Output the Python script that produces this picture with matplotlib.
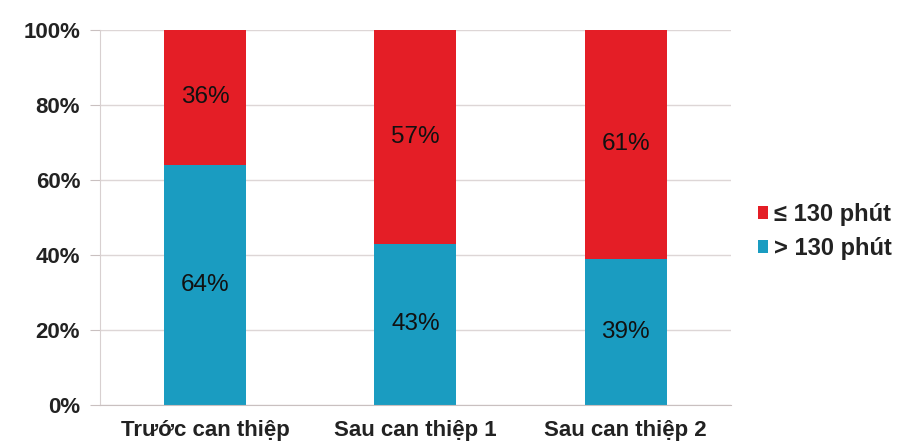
import numpy as np
import matplotlib.pyplot as plt

plt.rcParams['font.family'] = ['Liberation Sans', 'DejaVu Sans']

# Data to plot
categories = ['Trước can thiệp', 'Sau can thiệp 1', 'Sau can thiệp 2']
over_130 = [64, 43, 39]
under_130 = [36, 57, 61]
y_ticks = [0, 20, 40, 60, 80, 100]

red = '#e41e26'
blue = '#1a9cc1'

fig = plt.figure(figsize=(8.98, 4.45), dpi=100)
ax = fig.add_axes([0.111, 0.09, 0.703, 0.843])

index = np.arange(len(categories))
bar_width = 0.39

ax.bar(index, over_130, bar_width, color=blue, label='> 130 phút', zorder=2)
ax.bar(index, under_130, bar_width, bottom=over_130, color=red,
       label='≤ 130 phút', zorder=2)

for i in range(len(index)):
    ax.text(index[i], over_130[i] / 2, str(over_130[i]) + '%',
            ha='center', va='center', fontsize=17.5, color='#111111')
    ax.text(index[i], over_130[i] + under_130[i] / 2, str(under_130[i]) + '%',
            ha='center', va='center', fontsize=17.5, color='#111111')

ax.set_xlim(-0.5, 2.5)
ax.set_ylim(0, 100)
ax.set_yticks(y_ticks)
ax.set_yticklabels([str(v) + '%' for v in y_ticks], fontsize=16,
                   fontweight='bold', color='#222222')
ax.set_xticks(index)
ax.set_xticklabels(categories, fontsize=16, fontweight='bold', color='#222222')
ax.tick_params(axis='x', length=0, pad=11)
ax.tick_params(axis='y', length=7, color='#c9c0c0', pad=7)
ax.yaxis.grid(True, color='#ddd6d6', linewidth=1, zorder=0)

for side in ['top', 'right']:
    ax.spines[side].set_visible(False)
ax.spines['left'].set_color('#d8d0d0')
ax.spines['bottom'].set_color('#c9c0c0')

handles, labels = ax.get_legend_handles_labels()
leg = fig.legend(handles[::-1], labels[::-1], loc='center left',
                 bbox_to_anchor=(0.82, 0.48), frameon=False,
                 handlelength=0.45, handleheight=0.45, handletextpad=0.25,
                 labelspacing=0.45, prop={'weight': 'bold', 'size': 17})
for t in leg.get_texts():
    t.set_color('#222222')

fig.savefig('out.png', dpi=100)
